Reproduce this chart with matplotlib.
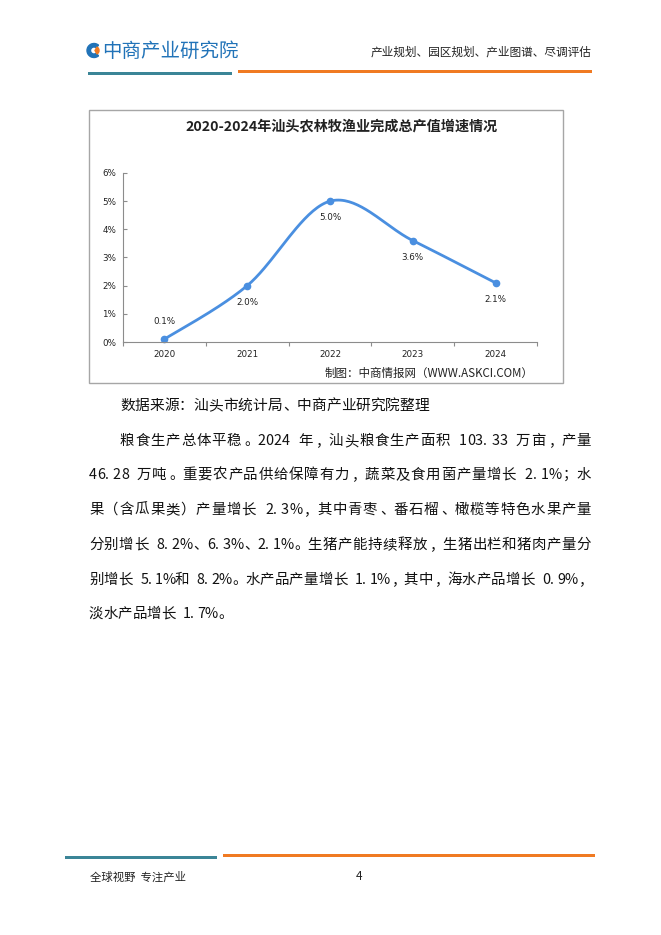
import numpy as np
import matplotlib
matplotlib.use("Agg")
import matplotlib.pyplot as plt
from matplotlib.patches import Rectangle, Wedge

plt.rcParams["font.family"] = ["Noto Sans CJK SC", "DejaVu Sans"]

# chart data
years = ["2020", "2021", "2022", "2023", "2024"]
growth = [0.1, 2.0, 5.0, 3.6, 2.1]          # %
labels = ["0.1%", "2.0%", "5.0%", "3.6%", "2.1%"]
y_ticks = [0, 1, 2, 3, 4, 5, 6]
y_tick_labels = ["0%", "1%", "2%", "3%", "4%", "5%", "6%"]

title = "2020-2024年汕头农林牧渔业完成总产值增速情况"
credit = "制图：中商情报网（WWW.ASKCI.COM）"
source = "数据来源：汕头市统计局、中商产业研究院整理"
para = [
    "粮食生产总体平稳。2024 年，汕头粮食生产面积 103.33 万亩，产量",
    "46.28 万吨。重要农产品供给保障有力，蔬菜及食用菌产量增长 2.1%；水",
    "果（含瓜果类）产量增长 2.3%，其中青枣、番石榴、橄榄等特色水果产量",
    "分别增长 8.2%、6.3%、2.1%。生猪产能持续释放，生猪出栏和猪肉产量分",
    "别增长 5.1%和 8.2%。水产品产量增长 1.1%，其中，海水产品增长 0.9%，",
    "淡水产品增长 1.7%。",
]

W, H = 661, 935
fig = plt.figure(figsize=(W / 100, H / 100), dpi=100)

# page layer in pixel coords
pg = fig.add_axes([0, 0, 1, 1])
pg.set_xlim(0, W)
pg.set_ylim(H, 0)
pg.axis("off")

teal = "#3b8597"
orange = "#f07a22"
blue_logo = "#2173b8"

# header
pg.add_patch(Wedge((94, 50.5), 7, 50, 310, width=3.5, color=blue_logo))
pg.add_patch(Wedge((95, 50.5), 4, -60, 60, color=orange))
pg.text(102, 51, "中商产业研究院", fontsize=14, color=blue_logo, ha="left", va="center")
pg.text(591, 52, "产业规划、园区规划、产业图谱、尽调评估", fontsize=8.4, color="#222222",
        ha="right", va="center")
pg.add_patch(Rectangle((88, 71.5), 144, 3.5, color=teal, lw=0))
pg.add_patch(Rectangle((238, 70), 354, 3, color=orange, lw=0))

# footer
pg.add_patch(Rectangle((65, 855.5), 152, 3, color=teal, lw=0))
pg.add_patch(Rectangle((223, 854), 372, 3, color=orange, lw=0))
pg.text(90, 877, "全球视野  专注产业", fontsize=8.2, color="#222222", ha="left", va="center")
pg.text(359, 877, "4", fontsize=8.5, color="#222222", ha="center", va="center")

# chart frame
pg.add_patch(Rectangle((89, 110), 474, 273, fill=False, ec="#a6a6a6", lw=1))
pg.text(342, 126, title, fontsize=10.2, fontweight="bold", color="#222222",
        ha="center", va="center")
pg.text(325, 373, credit, fontsize=8.3, color="#222222", ha="left", va="center")


def char_w(c):
    if c == "%":
        return 0.82
    return 0.5 if ord(c) < 128 else 1.0


def draw_line(s, x0, y, fs, x1=None):
    em = fs * 100 / 72
    widths = [char_w(c) for c in s]
    extra = 0
    if x1 is not None and len(s) > 1:
        extra = (x1 - x0 - sum(widths) * em) / (len(s) - 1)
    x = x0
    for c, w in zip(s, widths):
        if c != " ":
            dx = 0.12 * em if c in "，。；、" else 0
            pg.text(x + dx, y, c, fontsize=fs, color="#111111", ha="left", va="baseline")
        x += w * em + extra


fs_body = 10.4
draw_line(source, 120, 410, 10.6)
line_y = [445, 479, 514, 549, 584, 618]
for i, (s, y) in enumerate(zip(para, line_y)):
    x0 = 120 if i == 0 else 89
    x1 = 591 if i < len(para) - 1 else None
    draw_line(s, x0, y, fs_body, x1)


# chart axes
def px2fig(x0, y0, x1, y1):
    return [x0 / W, 1 - y1 / H, (x1 - x0) / W, (y1 - y0) / H]


ax = fig.add_axes(px2fig(123, 173, 537, 342))
ax.patch.set_alpha(0)
ax.set_xlim(-0.5, 4.5)
ax.set_ylim(0, 6)


def catmull(xs, ys, n=40):
    pts = np.column_stack([xs, ys]).astype(float)
    pts = np.vstack([pts[0], pts, pts[-1]])
    out = []
    t = np.linspace(0, 1, n)[:, None]
    for i in range(1, len(pts) - 2):
        p0, p1, p2, p3 = pts[i - 1], pts[i], pts[i + 1], pts[i + 2]
        seg = 0.5 * ((2 * p1) + (-p0 + p2) * t + (2 * p0 - 5 * p1 + 4 * p2 - p3) * t ** 2
                     + (-p0 + 3 * p1 - 3 * p2 + p3) * t ** 3)
        out.append(seg)
    out = np.vstack(out)
    return out[:, 0], out[:, 1]


xi = np.arange(len(years))
sx, sy = catmull(xi, growth)
line_color = "#4a8fe0"
ax.plot(sx, sy, color=line_color, lw=2.0, solid_capstyle="round", clip_on=False)
ax.plot(xi, growth, "o", color=line_color, ms=4.5, clip_on=False)

for i, (v, lab) in enumerate(zip(growth, labels)):
    off = 13 if i == 0 else -12
    ax.annotate(lab, (i, v), xytext=(0, off), textcoords="offset points",
                ha="center", va="center", fontsize=6.3, color="#222222",
                family=["DejaVu Sans"])

for sp in ["top", "right"]:
    ax.spines[sp].set_visible(False)
for sp in ["left", "bottom"]:
    ax.spines[sp].set_color("#8c8c8c")
    ax.spines[sp].set_linewidth(0.8)

ax.set_yticks(y_ticks)
ax.set_yticklabels(y_tick_labels)
ax.tick_params(axis="y", direction="in", length=3, width=0.8, color="#8c8c8c",
               labelsize=6.3, pad=5, labelcolor="#222222")
ax.set_xticks(np.arange(-0.5, 5.0, 1.0), minor=False)
ax.set_xticklabels([])
ax.set_xticks(xi, minor=True)
ax.set_xticklabels(years, minor=True)
ax.tick_params(axis="x", which="major", direction="out", length=3, width=0.8, color="#8c8c8c")
ax.tick_params(axis="x", which="minor", length=0, labelsize=6.3, pad=6, labelcolor="#222222")
for lab in ax.get_xticklabels(minor=True) + ax.get_yticklabels():
    lab.set_family(["DejaVu Sans"])

fig.savefig("out.png", dpi=100, facecolor="white")
